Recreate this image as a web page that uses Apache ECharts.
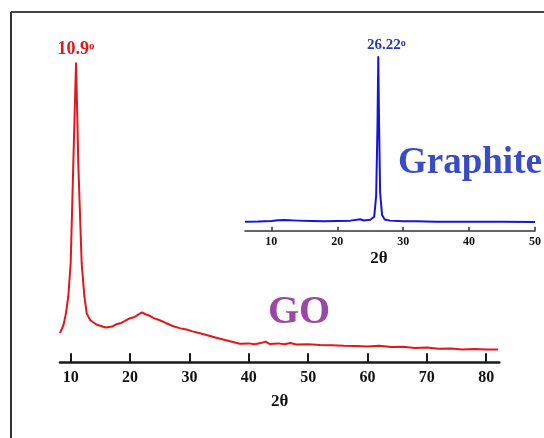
<!DOCTYPE html>
<html>
<head>
    <meta charset="utf-8">
    <title>XRD GO / Graphite</title>
    <script src="https://cdn.jsdelivr.net/npm/echarts@6/dist/echarts.min.js"></script>
    <style>
        html, body { margin: 0; padding: 0; background: #fff; }
    </style>
</head>
<body>
    <div id="main" style="width: 544px;height:438px;"></div>
    <script type="text/javascript">
        // GO pattern (2theta, intensity a.u.)
        var goAngle = [8.2, 8.8, 9.2, 9.6, 10.0, 10.44, 10.67, 10.9, 11.1, 11.28, 11.85, 12.3, 12.7, 13.3, 14.4, 15.9, 17, 17.7, 18.5, 19, 20, 20.7, 21.3, 22, 22.6, 23.2, 24, 25, 26, 27.3, 28.5, 29.5, 30.5, 31.8, 33, 34.5, 36, 37.5, 38.5, 40, 41, 42, 42.8, 43.5, 45, 46, 47, 48, 50, 52, 54, 56, 58, 60, 62, 64, 66, 68, 70, 72, 74, 76, 78, 80, 82];
        var goValue = [9.7, 12.5, 16.3, 22, 33, 66, 83, 99.6, 83, 66, 33, 22, 16.3, 14, 12.5, 11.6, 11.9, 12.7, 13.1, 13.6, 14.7, 15.0, 15.8, 16.6, 16.0, 15.6, 14.7, 14.0, 13.1, 12.0, 11.3, 10.9, 10.3, 9.7, 9.0, 8.2, 7.4, 6.7, 6.2, 6.3, 6.0, 6.4, 6.9, 6.1, 6.3, 6.0, 6.4, 5.9, 6.0, 5.8, 5.7, 5.5, 5.4, 5.3, 5.5, 5.1, 5.2, 4.8, 4.9, 4.5, 4.6, 4.3, 4.4, 4.3, 4.3];

        // Graphite pattern (inset)
        var grAngle = [6, 8, 10, 11, 12, 14, 16, 18, 20, 22, 23.5, 24, 25, 25.6, 25.9, 26.1, 26.22, 26.35, 26.5, 26.8, 27.2, 28, 30, 32, 35, 40, 45, 50];
        var grValue = [5.2, 5.3, 5.6, 6.0, 6.1, 5.8, 5.6, 5.5, 5.6, 5.8, 6.6, 5.9, 6.3, 8, 20, 60, 100, 60, 22, 9, 6.5, 5.8, 5.5, 5.4, 5.2, 5.1, 5.1, 5.0];

        var goTicks = [10, 20, 30, 40, 50, 60, 70, 80];
        var grTicks = [10, 20, 30, 40, 50];

        var serif = 'Liberation Serif';

        function pairs(xs, ys) {
            return xs.map(function (x, i) { return [x, ys[i]]; });
        }

        var myChart = echarts.init(document.getElementById('main'));

        var option = {
            backgroundColor: '#fff',
            animation: false,
            grid: [
                { left: 60, right: 44.7, top: 62, bottom: 75.7 },
                { left: 245, right: 7.3, top: 57, bottom: 207.3 }
            ],
            xAxis: [{
                gridIndex: 0, type: 'value', min: 8.2, max: 82.2,
                name: '2θ', nameLocation: 'middle', nameGap: 31,
                nameTextStyle: { fontFamily: serif, fontWeight: 'bold', fontSize: 17, color: '#111' },
                axisLine: { lineStyle: { color: '#1a1a1a', width: 2.5 } },
                axisTick: { inside: true, length: 9, customValues: goTicks, lineStyle: { color: '#1a1a1a', width: 2 } },
                axisLabel: { customValues: goTicks, margin: 8, fontFamily: serif, fontWeight: 'bold', fontSize: 16, color: '#111' },
                splitLine: { show: false }
            }, {
                gridIndex: 1, type: 'value', min: 6, max: 50,
                name: '2θ', nameLocation: 'middle', nameGap: 19,
                nameTextStyle: { fontFamily: serif, fontWeight: 'bold', fontSize: 17, color: '#111', padding: [0, 22, 0, 0] },
                axisLine: { lineStyle: { color: '#333', width: 1.5 } },
                axisTick: { inside: true, length: 4, customValues: grTicks, lineStyle: { color: '#333', width: 1.5 } },
                axisLabel: { customValues: grTicks, margin: 5, fontFamily: serif, fontWeight: 'bold', fontSize: 12, color: '#111' },
                splitLine: { show: false }
            }],
            yAxis: [
                { gridIndex: 0, type: 'value', min: 0, max: 100, show: false },
                { gridIndex: 1, type: 'value', min: 0, max: 100, show: false }
            ],
            series: [{
                type: 'line', xAxisIndex: 0, yAxisIndex: 0,
                data: pairs(goAngle, goValue),
                showSymbol: false,
                lineStyle: { color: '#e3161c', width: 2, join: 'round' },
                markPoint: {
                    symbol: 'circle', symbolSize: 0,
                    data: [{ coord: [10.9, 99.6] }],
                    label: {
                        show: true, position: 'top', distance: 5,
                        formatter: '{a|10.9}{s|o}',
                        rich: {
                            a: { fontFamily: serif, fontWeight: 'bold', fontSize: 18, color: '#e3161c' },
                            s: { fontFamily: serif, fontWeight: 'bold', fontSize: 11, color: '#e3161c', verticalAlign: 'top' }
                        }
                    }
                }
            }, {
                type: 'line', xAxisIndex: 1, yAxisIndex: 1,
                data: pairs(grAngle, grValue),
                showSymbol: false,
                lineStyle: { color: '#1414dc', width: 2, join: 'round' },
                markPoint: {
                    symbol: 'circle', symbolSize: 0,
                    data: [{ coord: [26.22, 100] }],
                    label: {
                        show: true, position: 'top', distance: 4, offset: [8, 0],
                        formatter: '{a|26.22}{s|o}',
                        rich: {
                            a: { fontFamily: serif, fontWeight: 'bold', fontSize: 15, color: '#2a36b8' },
                            s: { fontFamily: serif, fontWeight: 'bold', fontSize: 10, color: '#2a36b8', verticalAlign: 'top' }
                        }
                    }
                }
            }],
            graphic: [
                { type: 'line', shape: { x1: 11, y1: 12, x2: 11, y2: 438 }, style: { stroke: '#333', lineWidth: 2 } },
                { type: 'line', shape: { x1: 11, y1: 12, x2: 544, y2: 12 }, style: { stroke: '#444', lineWidth: 2 } },
                {
                    type: 'text', x: 299, y: 313,
                    style: { text: 'GO', fontFamily: serif, fontWeight: 'bold', fontSize: 40, fill: '#9b47a7', align: 'center', verticalAlign: 'middle' }
                },
                {
                    type: 'text', x: 398, y: 163,
                    style: { text: 'Graphite', fontFamily: serif, fontWeight: 'bold', fontSize: 37, fill: '#3a4cc4', align: 'left', verticalAlign: 'middle' }
                }
            ]
        };

        myChart.setOption(option);
    </script>
</body>
</html>
